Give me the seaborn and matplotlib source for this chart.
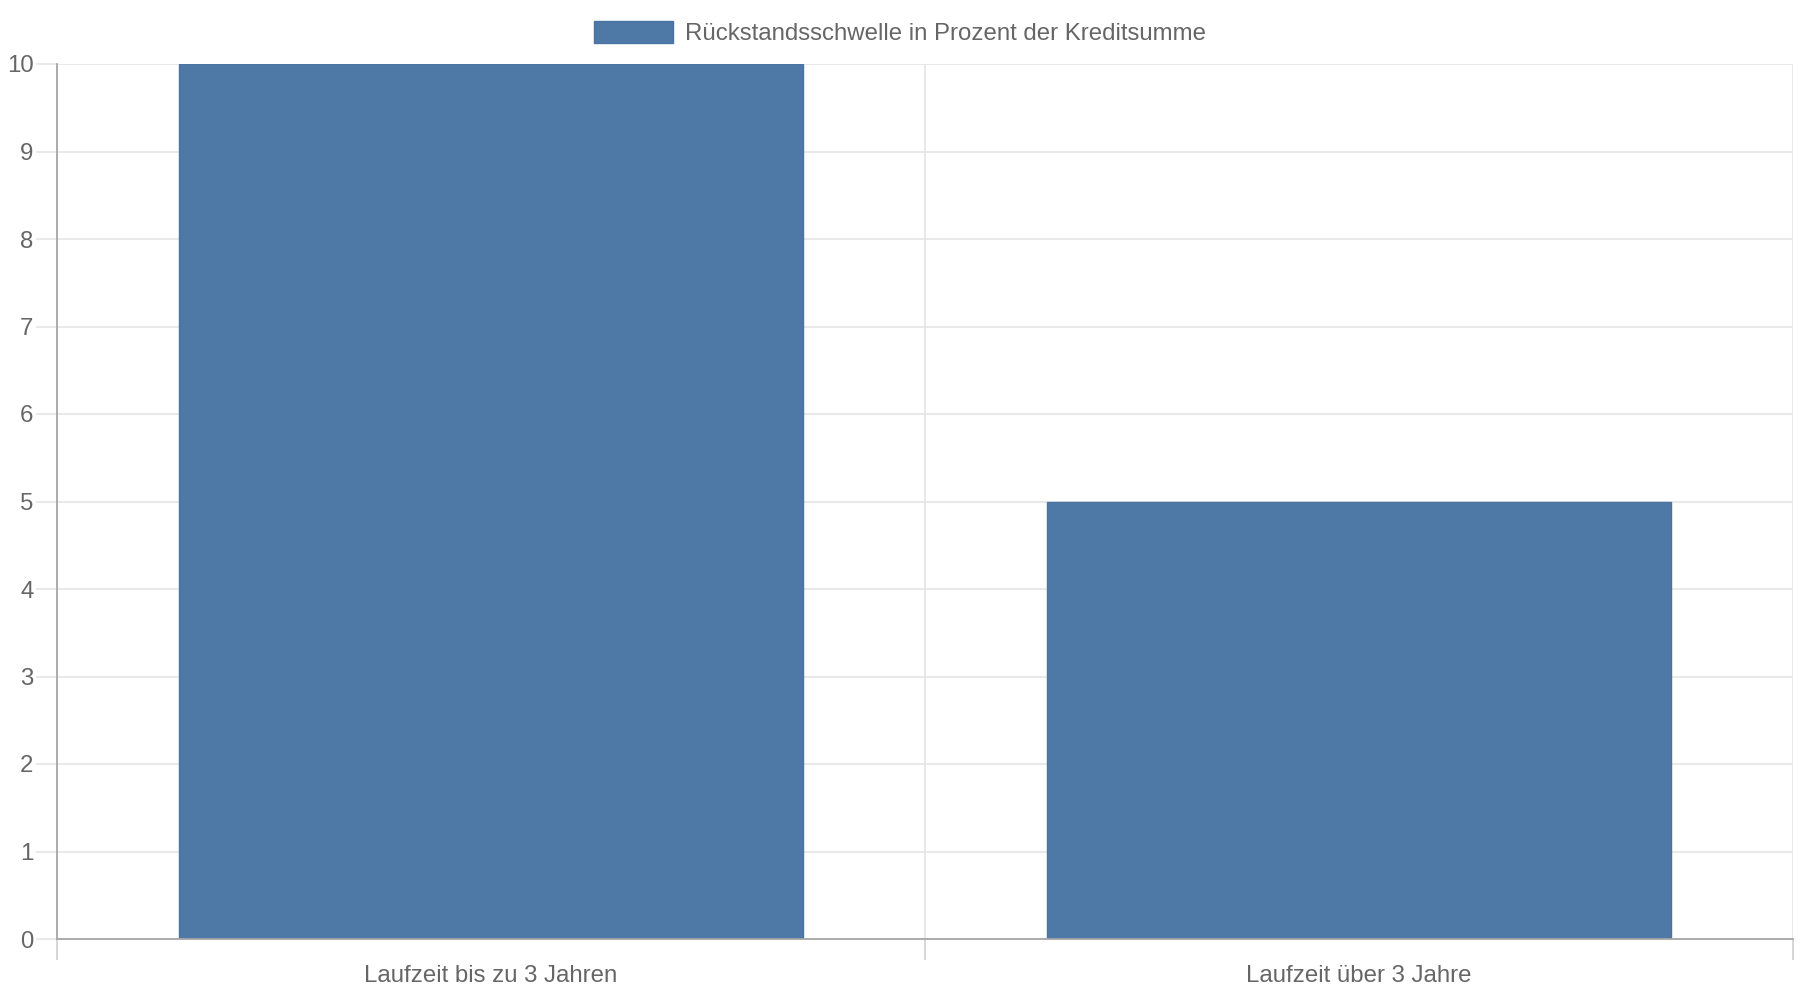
import matplotlib
matplotlib.use("Agg")
import matplotlib.pyplot as plt
import seaborn as sns
import pandas as pd

categories = ["Laufzeit bis zu 3 Jahren", "Laufzeit über 3 Jahre"]
values = [10, 5]
series_name = "Rückstandsschwelle in Prozent der Kreditsumme"

sns.set_style("white")
plt.rcParams["font.family"] = ["Liberation Sans", "DejaVu Sans"]

df = pd.DataFrame({"kategorie": categories, "wert": values})

fig = plt.figure(figsize=(18, 10), dpi=100)
ax = fig.add_axes([57 / 1800, 1 - 939 / 1000, (1793 - 57) / 1800, (939 - 64) / 1000])

sns.barplot(
    data=df, x="kategorie", y="wert", ax=ax,
    color="#4e79a7", saturation=1, width=0.72,
    edgecolor="#4a73a0", linewidth=1, label=series_name,
)

grid_col = "#e5e5e5"
axis_col = "#a6a6a6"
text_col = "#666666"
fs = 17.3

ax.set_xlim(-0.5, 1.5)
ax.set_ylim(0, 10)
ax.set_yticks(range(0, 11))
ax.set_xticks([-0.5, 0.5, 1.5], minor=True)
ax.set_axisbelow(True)
ax.grid(axis="y", color=grid_col, linewidth=1.2)
ax.grid(axis="x", which="minor", color=grid_col, linewidth=1.2)

ax.tick_params(axis="y", left=True, length=15, width=1.2, color=grid_col, pad=2,
               labelsize=fs, labelcolor=text_col)
ax.tick_params(axis="x", which="major", bottom=True, length=0, pad=19,
               labelsize=fs, labelcolor=text_col)
ax.tick_params(axis="x", which="minor", bottom=True, length=15, width=1.2,
               color="#d0d0d0")

for s in ["top", "right"]:
    ax.spines[s].set_visible(False)
ax.spines["left"].set_color(axis_col)
ax.spines["bottom"].set_color(axis_col)
ax.spines["left"].set_linewidth(1.3)
ax.spines["bottom"].set_linewidth(1.3)
ax.set_xlabel("")
ax.set_ylabel("")

handles, labels = ax.get_legend_handles_labels()
if ax.get_legend() is not None:
    ax.get_legend().remove()
fig.legend(
    handles[:1], labels[:1], loc="center",
    bbox_to_anchor=(0.5, 0.967), bbox_transform=fig.transFigure,
    frameon=False, fontsize=fs, labelcolor=text_col,
    handlelength=3.3, handleheight=1.05, handletextpad=0.5,
)

fig.savefig("out.png", dpi=100)
plt.close(fig)
